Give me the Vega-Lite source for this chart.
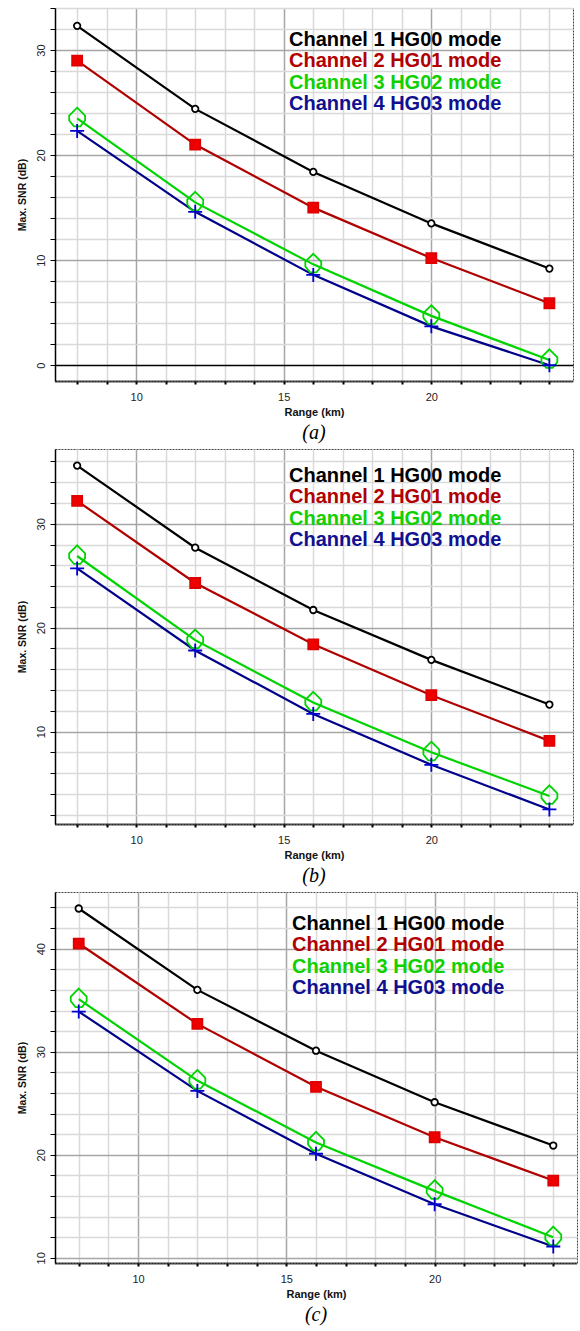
{
  "$schema": "https://vega.github.io/schema/vega-lite/v6.json",
  "background": "white",
  "padding": {"left": 16, "top": 7, "right": 3, "bottom": 0},
  "spacing": 4,
  "datasets": {
    "snr": [
      {"panel": "a", "mode": "Channel 1 HG00 mode", "range": 8, "snr": 32.3},
      {"panel": "a", "mode": "Channel 1 HG00 mode", "range": 12, "snr": 24.4},
      {"panel": "a", "mode": "Channel 1 HG00 mode", "range": 16, "snr": 18.4},
      {"panel": "a", "mode": "Channel 1 HG00 mode", "range": 20, "snr": 13.5},
      {"panel": "a", "mode": "Channel 1 HG00 mode", "range": 24, "snr": 9.2},
      {"panel": "a", "mode": "Channel 2 HG01 mode", "range": 8, "snr": 29.0},
      {"panel": "a", "mode": "Channel 2 HG01 mode", "range": 12, "snr": 21.0},
      {"panel": "a", "mode": "Channel 2 HG01 mode", "range": 16, "snr": 15.0},
      {"panel": "a", "mode": "Channel 2 HG01 mode", "range": 20, "snr": 10.2},
      {"panel": "a", "mode": "Channel 2 HG01 mode", "range": 24, "snr": 5.9},
      {"panel": "a", "mode": "Channel 3 HG02 mode", "range": 8, "snr": 23.5},
      {"panel": "a", "mode": "Channel 3 HG02 mode", "range": 12, "snr": 15.5},
      {"panel": "a", "mode": "Channel 3 HG02 mode", "range": 16, "snr": 9.6},
      {"panel": "a", "mode": "Channel 3 HG02 mode", "range": 20, "snr": 4.7},
      {"panel": "a", "mode": "Channel 3 HG02 mode", "range": 24, "snr": 0.5},
      {"panel": "a", "mode": "Channel 4 HG03 mode", "range": 8, "snr": 22.3},
      {"panel": "a", "mode": "Channel 4 HG03 mode", "range": 12, "snr": 14.6},
      {"panel": "a", "mode": "Channel 4 HG03 mode", "range": 16, "snr": 8.6},
      {"panel": "a", "mode": "Channel 4 HG03 mode", "range": 20, "snr": 3.7},
      {"panel": "a", "mode": "Channel 4 HG03 mode", "range": 24, "snr": 0.0},
      {"panel": "b", "mode": "Channel 1 HG00 mode", "range": 8, "snr": 35.6},
      {"panel": "b", "mode": "Channel 1 HG00 mode", "range": 12, "snr": 27.7},
      {"panel": "b", "mode": "Channel 1 HG00 mode", "range": 16, "snr": 21.7},
      {"panel": "b", "mode": "Channel 1 HG00 mode", "range": 20, "snr": 16.9},
      {"panel": "b", "mode": "Channel 1 HG00 mode", "range": 24, "snr": 12.6},
      {"panel": "b", "mode": "Channel 2 HG01 mode", "range": 8, "snr": 32.2},
      {"panel": "b", "mode": "Channel 2 HG01 mode", "range": 12, "snr": 24.3},
      {"panel": "b", "mode": "Channel 2 HG01 mode", "range": 16, "snr": 18.4},
      {"panel": "b", "mode": "Channel 2 HG01 mode", "range": 20, "snr": 13.5},
      {"panel": "b", "mode": "Channel 2 HG01 mode", "range": 24, "snr": 9.1},
      {"panel": "b", "mode": "Channel 3 HG02 mode", "range": 8, "snr": 26.9},
      {"panel": "b", "mode": "Channel 3 HG02 mode", "range": 12, "snr": 18.8},
      {"panel": "b", "mode": "Channel 3 HG02 mode", "range": 16, "snr": 12.8},
      {"panel": "b", "mode": "Channel 3 HG02 mode", "range": 20, "snr": 8.0},
      {"panel": "b", "mode": "Channel 3 HG02 mode", "range": 24, "snr": 3.8},
      {"panel": "b", "mode": "Channel 4 HG03 mode", "range": 8, "snr": 25.7},
      {"panel": "b", "mode": "Channel 4 HG03 mode", "range": 12, "snr": 17.8},
      {"panel": "b", "mode": "Channel 4 HG03 mode", "range": 16, "snr": 11.7},
      {"panel": "b", "mode": "Channel 4 HG03 mode", "range": 20, "snr": 6.8},
      {"panel": "b", "mode": "Channel 4 HG03 mode", "range": 24, "snr": 2.5},
      {"panel": "c", "mode": "Channel 1 HG00 mode", "range": 8, "snr": 43.9},
      {"panel": "c", "mode": "Channel 1 HG00 mode", "range": 12, "snr": 36.0},
      {"panel": "c", "mode": "Channel 1 HG00 mode", "range": 16, "snr": 30.1},
      {"panel": "c", "mode": "Channel 1 HG00 mode", "range": 20, "snr": 25.1},
      {"panel": "c", "mode": "Channel 1 HG00 mode", "range": 24, "snr": 20.9},
      {"panel": "c", "mode": "Channel 2 HG01 mode", "range": 8, "snr": 40.5},
      {"panel": "c", "mode": "Channel 2 HG01 mode", "range": 12, "snr": 32.7},
      {"panel": "c", "mode": "Channel 2 HG01 mode", "range": 16, "snr": 26.6},
      {"panel": "c", "mode": "Channel 2 HG01 mode", "range": 20, "snr": 21.7},
      {"panel": "c", "mode": "Channel 2 HG01 mode", "range": 24, "snr": 17.5},
      {"panel": "c", "mode": "Channel 3 HG02 mode", "range": 8, "snr": 35.1},
      {"panel": "c", "mode": "Channel 3 HG02 mode", "range": 12, "snr": 27.2},
      {"panel": "c", "mode": "Channel 3 HG02 mode", "range": 16, "snr": 21.2},
      {"panel": "c", "mode": "Channel 3 HG02 mode", "range": 20, "snr": 16.5},
      {"panel": "c", "mode": "Channel 3 HG02 mode", "range": 24, "snr": 12.0},
      {"panel": "c", "mode": "Channel 4 HG03 mode", "range": 8, "snr": 33.9},
      {"panel": "c", "mode": "Channel 4 HG03 mode", "range": 12, "snr": 26.2},
      {"panel": "c", "mode": "Channel 4 HG03 mode", "range": 16, "snr": 20.1},
      {"panel": "c", "mode": "Channel 4 HG03 mode", "range": 20, "snr": 15.2},
      {"panel": "c", "mode": "Channel 4 HG03 mode", "range": 24, "snr": 11.1}
    ]
  },
  "config": {
    "view": {"stroke": "#444", "strokeDash": [2, 1], "strokeWidth": 1},
    "axis": {
      "labelFont": "Liberation Sans",
      "labelFontSize": 11,
      "labelColor": "#222",
      "labelOverlap": false,
      "labelFlush": false,
      "titleFont": "Liberation Sans",
      "titleFontWeight": "bold",
      "titleFontSize": 10.5,
      "titleColor": "#111",
      "gridWidth": 1.5,
      "tickColor": "#000",
      "domainColor": "#000"
    },
    "axisX": {
      "tickSize": 3,
      "tickWidth": 2,
      "domainWidth": 2.5,
      "domainDash": [1, 1],
      "labelPadding": 7,
      "titlePadding": 4,
      "titleFontSize": 11
    },
    "axisY": {
      "tickSize": 5,
      "tickWidth": 1,
      "domainWidth": 1.5,
      "labelAngle": -90,
      "labelPadding": 4,
      "titlePadding": 8
    },
    "legend": {
      "orient": "none",
      "symbolOpacity": 0,
      "symbolSize": 0,
      "symbolStrokeWidth": 0,
      "labelOffset": 0,
      "labelFont": "Liberation Sans",
      "labelFontWeight": "bold",
      "labelFontSize": 20,
      "labelLimit": 500,
      "rowPadding": 1,
      "padding": 0
    },
    "title": {
      "orient": "bottom",
      "anchor": "middle",
      "font": "Liberation Serif",
      "fontStyle": "italic",
      "fontWeight": "normal",
      "fontSize": 20,
      "color": "#000",
      "offset": 6
    }
  },
  "resolve": {
    "scale": {"color": "independent", "fill": "independent", "stroke": "independent", "shape": "independent", "size": "independent"},
    "legend": {"color": "independent"}
  },
  "vconcat": [
    {
      "width": 518,
      "height": 373,
      "title": {"text": "(a)"},
      "data": {"name": "snr"},
      "transform": [{"filter": "datum.panel === 'a'"}],
      "encoding": {
        "x": {
          "field": "range", "type": "quantitative",
          "scale": {"domain": [7.25, 24.8], "nice": false, "zero": false},
          "axis": {
            "title": "Range (km)",
            "values": [8, 9, 10, 11, 12, 13, 14, 15, 16, 17, 18, 19, 20, 21, 22, 23, 24],
            "labelExpr": "datum.value % 5 === 0 ? datum.label : ''",
            "gridColor": {"condition": {"test": "datum.value % 5 === 0", "value": "#a6a6a6"}, "value": "#d9d9d9"}
          }
        },
        "y": {
          "field": "snr", "type": "quantitative",
          "scale": {"domain": [-1.5, 34], "nice": false, "zero": false},
          "axis": {
            "title": "Max. SNR (dB)",
            "values": [0, 2, 4, 6, 8, 10, 12, 14, 16, 18, 20, 22, 24, 26, 28, 30, 32, 34],
            "labelExpr": "datum.value % 10 === 0 ? datum.label : ''",
            "gridColor": {"condition": [{"test": "datum.value === 0", "value": "#000"}, {"test": "datum.value % 10 === 0", "value": "#a6a6a6"}], "value": "#d9d9d9"}
          }
        }
      },
      "layer": [
        {
          "mark": {"type": "line", "strokeWidth": 2.2},
          "encoding": {
            "color": {
              "field": "mode", "type": "nominal",
              "scale": {"domain": ["Channel 1 HG00 mode", "Channel 2 HG01 mode", "Channel 3 HG02 mode", "Channel 4 HG03 mode"], "range": ["#000000", "#b00000", "#00d400", "#00008b"]},
              "legend": {
                "title": null, "legendX": 212, "legendY": 22,
                "labelColor": {"expr": "datum.label === 'Channel 1 HG00 mode' ? '#000000' : datum.label === 'Channel 2 HG01 mode' ? '#b00000' : datum.label === 'Channel 3 HG02 mode' ? '#10d000' : '#101090'"}
              }
            }
          }
        },
        {
          "mark": {"type": "point", "filled": true, "strokeWidth": 1.8, "opacity": 1},
          "encoding": {
            "shape": {"field": "mode", "type": "nominal", "legend": null,
              "scale": {"domain": ["Channel 1 HG00 mode", "Channel 2 HG01 mode", "Channel 3 HG02 mode", "Channel 4 HG03 mode"], "range": ["circle", "square", "M0,-1L0.75,-0.25L0.75,0.2L0.3,0.75L-0.3,0.75L-0.75,0.2L-0.75,-0.25Z", "M-1,0L1,0M0,-1L0,1"]}},
            "fill": {"field": "mode", "type": "nominal", "legend": null,
              "scale": {"domain": ["Channel 1 HG00 mode", "Channel 2 HG01 mode", "Channel 3 HG02 mode", "Channel 4 HG03 mode"], "range": ["#ffffff", "#ee0000", "transparent", "transparent"]}},
            "stroke": {"field": "mode", "type": "nominal", "legend": null,
              "scale": {"domain": ["Channel 1 HG00 mode", "Channel 2 HG01 mode", "Channel 3 HG02 mode", "Channel 4 HG03 mode"], "range": ["#000000", "#dd0000", "#00d400", "#0000d0"]}},
            "size": {"field": "mode", "type": "nominal", "legend": null,
              "scale": {"type": "ordinal", "domain": ["Channel 1 HG00 mode", "Channel 2 HG01 mode", "Channel 3 HG02 mode", "Channel 4 HG03 mode"], "range": [42, 100, 450, 196]}}
          }
        }
      ]
    },
    {
      "width": 518,
      "height": 375,
      "title": {"text": "(b)"},
      "data": {"name": "snr"},
      "transform": [{"filter": "datum.panel === 'b'"}],
      "encoding": {
        "x": {
          "field": "range", "type": "quantitative",
          "scale": {"domain": [7.25, 24.8], "nice": false, "zero": false},
          "axis": {
            "title": "Range (km)",
            "values": [8, 9, 10, 11, 12, 13, 14, 15, 16, 17, 18, 19, 20, 21, 22, 23, 24],
            "labelExpr": "datum.value % 5 === 0 ? datum.label : ''",
            "gridColor": {"condition": {"test": "datum.value % 5 === 0", "value": "#a6a6a6"}, "value": "#d9d9d9"}
          }
        },
        "y": {
          "field": "snr", "type": "quantitative",
          "scale": {"domain": [1.1, 37.2], "nice": false, "zero": false},
          "axis": {
            "title": "Max. SNR (dB)",
            "values": [2, 4, 6, 8, 10, 12, 14, 16, 18, 20, 22, 24, 26, 28, 30, 32, 34, 36],
            "labelExpr": "datum.value % 10 === 0 ? datum.label : ''",
            "gridColor": {"condition": {"test": "datum.value % 10 === 0", "value": "#a6a6a6"}, "value": "#d9d9d9"}
          }
        }
      },
      "layer": [
        {
          "mark": {"type": "line", "strokeWidth": 2.2},
          "encoding": {
            "color": {
              "field": "mode", "type": "nominal",
              "scale": {"domain": ["Channel 1 HG00 mode", "Channel 2 HG01 mode", "Channel 3 HG02 mode", "Channel 4 HG03 mode"], "range": ["#000000", "#b00000", "#00d400", "#00008b"]},
              "legend": {
                "title": null, "legendX": 212, "legendY": 17,
                "labelColor": {"expr": "datum.label === 'Channel 1 HG00 mode' ? '#000000' : datum.label === 'Channel 2 HG01 mode' ? '#b00000' : datum.label === 'Channel 3 HG02 mode' ? '#10d000' : '#101090'"}
              }
            }
          }
        },
        {
          "mark": {"type": "point", "filled": true, "strokeWidth": 1.8, "opacity": 1},
          "encoding": {
            "shape": {"field": "mode", "type": "nominal", "legend": null,
              "scale": {"domain": ["Channel 1 HG00 mode", "Channel 2 HG01 mode", "Channel 3 HG02 mode", "Channel 4 HG03 mode"], "range": ["circle", "square", "M0,-1L0.75,-0.25L0.75,0.2L0.3,0.75L-0.3,0.75L-0.75,0.2L-0.75,-0.25Z", "M-1,0L1,0M0,-1L0,1"]}},
            "fill": {"field": "mode", "type": "nominal", "legend": null,
              "scale": {"domain": ["Channel 1 HG00 mode", "Channel 2 HG01 mode", "Channel 3 HG02 mode", "Channel 4 HG03 mode"], "range": ["#ffffff", "#ee0000", "transparent", "transparent"]}},
            "stroke": {"field": "mode", "type": "nominal", "legend": null,
              "scale": {"domain": ["Channel 1 HG00 mode", "Channel 2 HG01 mode", "Channel 3 HG02 mode", "Channel 4 HG03 mode"], "range": ["#000000", "#dd0000", "#00d400", "#0000d0"]}},
            "size": {"field": "mode", "type": "nominal", "legend": null,
              "scale": {"type": "ordinal", "domain": ["Channel 1 HG00 mode", "Channel 2 HG01 mode", "Channel 3 HG02 mode", "Channel 4 HG03 mode"], "range": [42, 100, 450, 196]}}
          }
        }
      ]
    },
    {
      "width": 522,
      "height": 371,
      "title": {"text": "(c)"},
      "data": {"name": "snr"},
      "transform": [{"filter": "datum.panel === 'c'"}],
      "encoding": {
        "x": {
          "field": "range", "type": "quantitative",
          "scale": {"domain": [7.2, 24.8], "nice": false, "zero": false},
          "axis": {
            "title": "Range (km)",
            "values": [8, 9, 10, 11, 12, 13, 14, 15, 16, 17, 18, 19, 20, 21, 22, 23, 24],
            "labelExpr": "datum.value % 5 === 0 ? datum.label : ''",
            "gridColor": {"condition": {"test": "datum.value % 5 === 0", "value": "#a6a6a6"}, "value": "#d9d9d9"}
          }
        },
        "y": {
          "field": "snr", "type": "quantitative",
          "scale": {"domain": [9.5, 45.5], "nice": false, "zero": false},
          "axis": {
            "title": "Max. SNR (dB)",
            "values": [10, 12, 14, 16, 18, 20, 22, 24, 26, 28, 30, 32, 34, 36, 38, 40, 42, 44],
            "labelExpr": "datum.value % 10 === 0 ? datum.label : ''",
            "gridColor": {"condition": {"test": "datum.value % 10 === 0", "value": "#a6a6a6"}, "value": "#d9d9d9"}
          }
        }
      },
      "layer": [
        {
          "mark": {"type": "line", "strokeWidth": 2.2},
          "encoding": {
            "color": {
              "field": "mode", "type": "nominal",
              "scale": {"domain": ["Channel 1 HG00 mode", "Channel 2 HG01 mode", "Channel 3 HG02 mode", "Channel 4 HG03 mode"], "range": ["#000000", "#b00000", "#00d400", "#00008b"]},
              "legend": {
                "title": null, "legendX": 215, "legendY": 22,
                "labelColor": {"expr": "datum.label === 'Channel 1 HG00 mode' ? '#000000' : datum.label === 'Channel 2 HG01 mode' ? '#b00000' : datum.label === 'Channel 3 HG02 mode' ? '#10d000' : '#101090'"}
              }
            }
          }
        },
        {
          "mark": {"type": "point", "filled": true, "strokeWidth": 1.8, "opacity": 1},
          "encoding": {
            "shape": {"field": "mode", "type": "nominal", "legend": null,
              "scale": {"domain": ["Channel 1 HG00 mode", "Channel 2 HG01 mode", "Channel 3 HG02 mode", "Channel 4 HG03 mode"], "range": ["circle", "square", "M0,-1L0.75,-0.25L0.75,0.2L0.3,0.75L-0.3,0.75L-0.75,0.2L-0.75,-0.25Z", "M-1,0L1,0M0,-1L0,1"]}},
            "fill": {"field": "mode", "type": "nominal", "legend": null,
              "scale": {"domain": ["Channel 1 HG00 mode", "Channel 2 HG01 mode", "Channel 3 HG02 mode", "Channel 4 HG03 mode"], "range": ["#ffffff", "#ee0000", "transparent", "transparent"]}},
            "stroke": {"field": "mode", "type": "nominal", "legend": null,
              "scale": {"domain": ["Channel 1 HG00 mode", "Channel 2 HG01 mode", "Channel 3 HG02 mode", "Channel 4 HG03 mode"], "range": ["#000000", "#dd0000", "#00d400", "#0000d0"]}},
            "size": {"field": "mode", "type": "nominal", "legend": null,
              "scale": {"type": "ordinal", "domain": ["Channel 1 HG00 mode", "Channel 2 HG01 mode", "Channel 3 HG02 mode", "Channel 4 HG03 mode"], "range": [42, 100, 450, 196]}}
          }
        }
      ]
    }
  ]
}
